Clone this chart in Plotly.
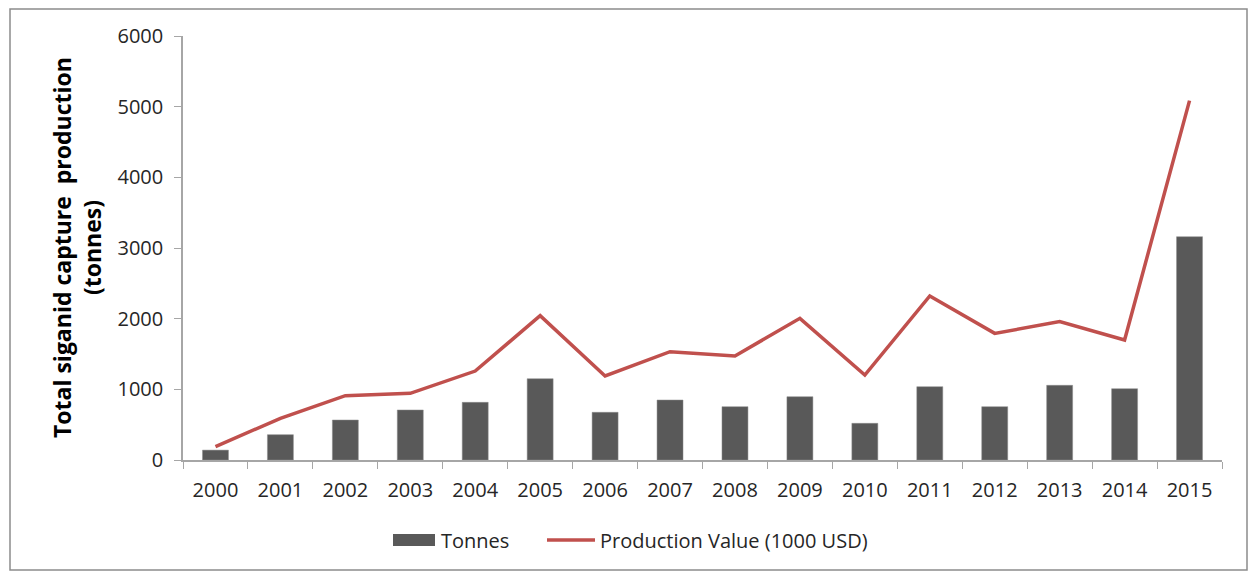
import plotly.graph_objects as go

years = [str(y) for y in range(2000, 2016)]
tonnes = [140, 358, 566, 708, 816, 1150, 675, 849, 755, 896, 519, 1038, 755, 1057, 1009, 3160]
value_1000usd = [189, 590, 910, 943, 1259, 2042, 1189, 1533, 1472, 2005, 1203, 2321, 1792, 1958, 1698, 5085]
y_ticks = [0, 1000, 2000, 3000, 4000, 5000, 6000]
series_names = ["Tonnes", "Production Value (1000 USD)"]

FONT = "Open Sans"
W, H = 1249, 572
L, R, T, B = 183, 27, 36, 112
pw, ph = W - L - R, H - T - B
BAR_COLOR = "#595959"
LINE_COLOR = "#C0504D"

fig = go.Figure()
fig.add_trace(go.Bar(x=years, y=tonnes, name=series_names[0],
                     marker=dict(color=BAR_COLOR, line=dict(color="#8c8c8c", width=0.5))))
fig.add_trace(go.Scatter(x=years, y=value_1000usd, name=series_names[1],
                         mode="lines", line=dict(color=LINE_COLOR, width=3.5)))

def px_x(p):
    return (p - L) / pw

def px_y(p):
    return (H - B - p) / ph

shapes = [
    dict(type="rect", xref="paper", yref="paper",
         x0=px_x(10), x1=px_x(1247), y0=px_y(570), y1=px_y(9),
         line=dict(color="#8c8c8c", width=1.5), fillcolor="rgba(0,0,0,0)", layer="below"),
    # legend keys
    dict(type="rect", xref="paper", yref="paper",
         x0=px_x(393), x1=px_x(435), y0=px_y(546), y1=px_y(534),
         line=dict(width=0), fillcolor=BAR_COLOR),
    dict(type="line", xref="paper", yref="paper",
         x0=px_x(547), x1=px_x(595), y0=px_y(540), y1=px_y(540),
         line=dict(color=LINE_COLOR, width=3.5)),
]

annotations = [
    dict(text="<b>Total siganid capture  production<br>(tonnes)</b>",
         xref="paper", yref="paper", x=px_x(77), y=px_y(248),
         xanchor="center", yanchor="middle", textangle=-90, showarrow=False,
         font=dict(size=23, color="#000000")),
    dict(text=series_names[0], xref="paper", yref="paper", x=px_x(439), y=px_y(540),
         xanchor="left", yanchor="middle", showarrow=False, font=dict(size=20, color="#262626")),
    dict(text=series_names[1], xref="paper", yref="paper", x=px_x(598), y=px_y(540),
         xanchor="left", yanchor="middle", showarrow=False, font=dict(size=20, color="#262626")),
]

fig.update_layout(
    width=W, height=H,
    margin=dict(l=L, r=R, t=T, b=B),
    paper_bgcolor="white", plot_bgcolor="white",
    bargap=0.6,
    font=dict(family=FONT, size=20, color="#262626"),
    showlegend=False,
    xaxis=dict(type="category", showline=True, linecolor="#a6a6a6", linewidth=1.5,
               ticks="outside", tickson="boundaries", ticklen=7, tickcolor="#a6a6a6",
               showgrid=False, tickfont=dict(size=20), ticklabelstandoff=11),
    yaxis=dict(range=[0, 6000], tickvals=y_ticks, showline=True, linecolor="#a6a6a6", linewidth=1.5,
               ticks="outside", ticklen=7, tickcolor="#a6a6a6", showgrid=False, zeroline=False,
               tickfont=dict(size=20), ticklabelstandoff=7),
    shapes=shapes,
    annotations=annotations,
)

fig.write_html("out.html")
